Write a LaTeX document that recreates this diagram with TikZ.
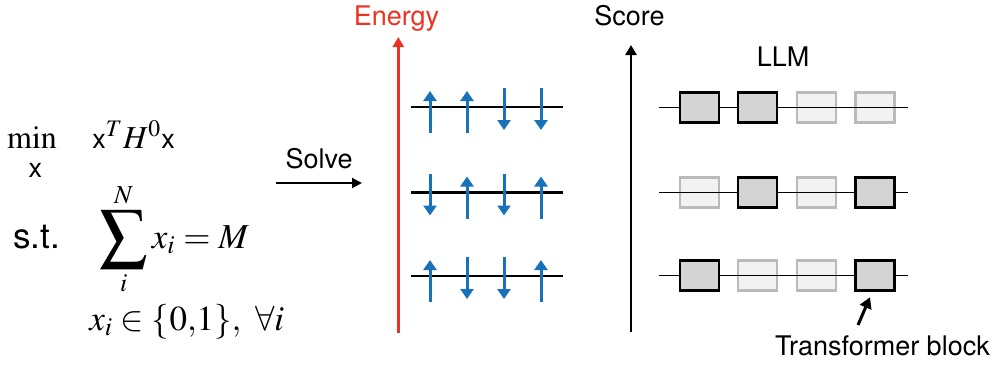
\documentclass[tikz,border=0pt]{standalone}
\usepackage{amsmath}
\usepackage{graphicx}
\usepackage{mathptmx}
\usepackage[no-math]{fontspec}
\setmainfont{TeX Gyre Heros}
\usepackage{xcolor}
\usetikzlibrary{arrows.meta,positioning}
\definecolor{spinblue}{RGB}{24,114,186}
\definecolor{energyred}{RGB}{236,50,35}
\newcommand{\txtx}{{\fontsize{13.5}{16}\selectfont x}}
\newcommand{\bigsum}{\mathop{\vcenter{\hbox{\scalebox{1.35}{$\displaystyle\sum$}}}}\limits}

\begin{document}
\begin{tikzpicture}[x=0.5pt, y=-0.5pt,
    lbl/.style={font=\fontsize{13.5}{16}\selectfont, inner sep=0pt, anchor=base},
    eq/.style={font=\fontsize{16}{19}\selectfont, inner sep=0pt, anchor=base west},
    bigeq/.style={eq, font=\fontsize{17.5}{21}\selectfont},
    axis/.style={line width=1.3pt, -{Triangle[width=5.5pt, length=5pt]}},
    spin/.style={draw=spinblue, line width=1.5pt, -{Triangle[width=6.5pt, length=5pt]}},
    level/.style={line width=1.3pt},
    wire/.style={line width=0.6pt},
    blk/.style={rectangle, draw=black, line width=1.2pt, fill=black!17, minimum width=19.5pt, minimum height=15pt, inner sep=0pt},
    faint/.style={blk, draw=black!27, fill=black!5},
    solvearr/.style={line width=1pt, -{Triangle[width=5pt, length=5pt]}},
    ptr/.style={line width=1.5pt, -{Triangle[width=6pt, length=5.5pt]}}
]
\useasboundingbox (0,0) rectangle (996,365);

% problem
\node[eq, anchor=base] (min) at (32,148) {$\min$};
\node[lbl] (minx) at (35.5,177) {x};
\node[eq] (obj) at (92,148) {\txtx$^{T}H^{0}$\txtx};
\node[bigeq] (st) at (13,248) {s.t.};
\node[bigeq] (cons) at (99,248) {$\bigsum_{i}^{N} x_i = M$};
\node[bigeq] (dom) at (89,330) {$x_i \in \{0{,}1\},\ \forall i$};

\coordinate (sw) at (276,183);
\coordinate (se) at (362,183);
\draw[solvearr] (sw) -- node[lbl, yshift=7.5pt] (solve) {Solve} (se);

% energy axis
\node[lbl, text=energyred] (elab) at (396.5,25) {Energy};
\coordinate (ebot) at (398.3,333);
\coordinate (etop) at (398.3,37);
\draw[axis, draw=energyred, -{Triangle[width=5.5pt, length=5pt, fill=energyred]}] (ebot) -- (etop);

\draw[level] (411,107) -- (563,107);
\draw[level] (411,192.5) -- (563,192.5);
\draw[level] (411,276) -- (563,276);

\draw[spin] (430,133) -- (430,91);
\draw[spin] (467,133) -- (467,91);
\draw[spin] (504,88) -- (504,130);
\draw[spin] (541,88) -- (541,130);

\draw[spin] (430,173.5) -- (430,215.5);
\draw[spin] (467,218.5) -- (467,176.5);
\draw[spin] (504,173.5) -- (504,215.5);
\draw[spin] (541,218.5) -- (541,176.5);

\draw[spin] (430,302) -- (430,260);
\draw[spin] (467,257) -- (467,299);
\draw[spin] (504,257) -- (504,299);
\draw[spin] (541,302) -- (541,260);

% score axis
\node[lbl] (slab) at (629.5,25) {Score};
\coordinate (sbot) at (631,332);
\coordinate (stop) at (631,45);
\draw[axis] (sbot) -- (stop);

\node[lbl] (llm) at (783,66.5) {LLM};

% inactive blocks
\node[faint] (b13) at (816.5,107.5) {};
\node[faint] (b14) at (875,107.5) {};
\node[faint] (b21) at (699.5,192.5) {};
\node[faint] (b23) at (816.5,192.5) {};
\node[faint] (b32) at (757.5,275.5) {};
\node[faint] (b33) at (816.5,275.5) {};

\draw[wire] (659,107.5) -- (908,107.5);
\draw[wire] (659,192.5) -- (908,192.5);
\draw[wire] (659,275.5) -- (908,275.5);

% active blocks
\node[blk] (b11) at (699.5,107.5) {};
\node[blk] (b12) at (757.5,107.5) {};
\node[blk] (b22) at (757.5,192.5) {};
\node[blk] (b24) at (875,192.5) {};
\node[blk] (b31) at (699.5,275.5) {};
\node[blk] (b34) at (875,275.5) {};

\node[lbl] (tb) at (882.5,355) {Transformer block};
\coordinate (tbtail) at (858,325);
\draw[ptr] (tbtail) -- ([xshift=-2.5pt, yshift=-2.75pt]b34.south);

\end{tikzpicture}
\end{document}
